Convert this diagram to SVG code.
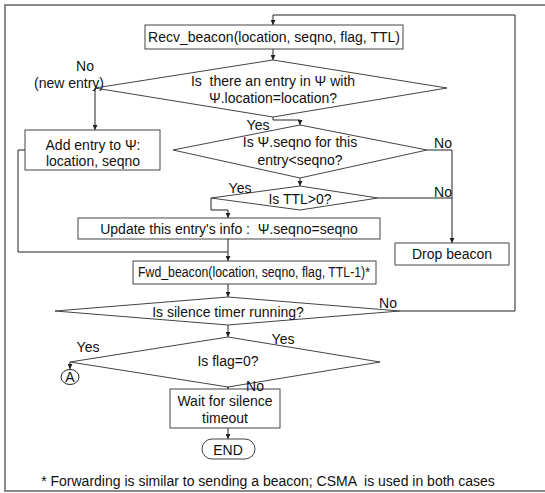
<svg xmlns="http://www.w3.org/2000/svg" width="545" height="493" viewBox="0 0 545 493">
<style>
text{font-family:"Liberation Sans",Arial,sans-serif;font-size:14px;fill:#111;text-anchor:middle;white-space:pre}
.box{fill:#fff;stroke:#444;stroke-width:1}
.ln{fill:none;stroke:#222;stroke-width:1}
</style>
<defs>
<marker id="ah" viewBox="0 0 6 6" refX="6" refY="3" markerWidth="5" markerHeight="5" orient="auto" markerUnits="userSpaceOnUse">
<path d="M0,0 L6,3 L0,6 z" fill="#222"/>
</marker>
</defs>
<rect width="545" height="493" fill="#fff"/>
<path d="M545,5 H5 V491 H545" fill="none" stroke="#888" stroke-width="2"/>

<g id="connectors">
<path class="ln" d="M400,311 H515 V15 H273 V25" marker-end="url(#ah)"/>
<path class="ln" d="M273,49 V60" marker-end="url(#ah)"/>
<path class="ln" d="M95,88 V130" marker-end="url(#ah)"/>
<path class="ln" d="M273,117 V120 H300 V125" marker-end="url(#ah)"/>
<path class="ln" d="M427,150 H452 V243" marker-end="url(#ah)"/>
<path class="ln" d="M300,178 V186" marker-end="url(#ah)"/>
<path class="ln" d="M378,198 H452"/>
<path class="ln" d="M211,198 V210 H228 V218" marker-end="url(#ah)"/>
<path class="ln" d="M228,239 V261" marker-end="url(#ah)"/>
<path class="ln" d="M25,150 H18 V252 H228"/>
<path class="ln" d="M228,284 V297" marker-end="url(#ah)"/>
<path class="ln" d="M228,325 V337" marker-end="url(#ah)"/>
<path class="ln" d="M70,362 V369" marker-end="url(#ah)"/>
<path class="ln" d="M228,387 V389" marker-end="url(#ah)"/>
<path class="ln" d="M228,428 V439" marker-end="url(#ah)"/>
</g>

<g id="recv">
<rect class="box" x="145" y="25" width="258" height="24"/>
<text x="274" y="42">Recv_beacon(location, seqno, flag, TTL)</text>
</g>
<g id="d1">
<polygon class="box" points="273,60 447,88 273,117 95,88"/>
<text x="273" y="86">Is  there an entry in Ψ with</text>
<text x="273" y="103">Ψ.location=location?</text>
</g>
<g id="add">
<rect class="box" x="25" y="130" width="135" height="40"/>
<text x="93" y="150">Add entry to Ψ:</text>
<text x="93" y="166">location, seqno</text>
</g>
<g id="d2">
<polygon class="box" points="300,125 427,150 300,178 173,150"/>
<text x="300" y="147">Is Ψ.seqno for this</text>
<text x="300" y="165">entry&lt;seqno?</text>
</g>
<g id="d3">
<polygon class="box" points="300,186 378,198 300,210 211,198"/>
<text x="300" y="204">Is TTL&gt;0?</text>
</g>
<g id="drop">
<rect class="box" x="395" y="243" width="114" height="22"/>
<text x="452" y="259">Drop beacon</text>
</g>
<g id="update">
<rect class="box" x="78" y="218" width="302" height="21"/>
<text x="229" y="234">Update this entry's info :  Ψ.seqno=seqno</text>
</g>
<g id="fwd">
<rect class="box" x="133" y="261" width="243" height="23"/>
<text x="254" y="277" textLength="232" lengthAdjust="spacingAndGlyphs">Fwd_beacon(location, seqno, flag, TTL-1)*</text>
</g>
<g id="d4">
<polygon class="box" points="228,297 400,311 228,325 55,311"/>
<text x="228" y="317">Is silence timer running?</text>
</g>
<g id="d5">
<polygon class="box" points="228,337 380,362 228,387 70,362"/>
<text x="228" y="366">Is flag=0?</text>
</g>
<g id="connA">
<ellipse cx="70" cy="377" rx="9" ry="7.5" fill="#fff" stroke="#222"/>
<text x="70" y="382">A</text>
</g>
<g id="wait">
<rect class="box" x="170" y="389" width="110" height="39"/>
<text x="225" y="406">Wait for silence</text>
<text x="225" y="423">timeout</text>
</g>
<g id="end">
<rect class="box" x="202" y="439" width="53" height="20" rx="10"/>
<text x="228" y="455">END</text>
</g>
<g id="labels">
<text x="85" y="71">No</text>
<text x="69" y="88">(new entry)</text>
<text x="258" y="130">Yes</text>
<text x="443" y="148">No</text>
<text x="240" y="193">Yes</text>
<text x="443" y="197">No</text>
<text x="388" y="308">No</text>
<text x="283" y="344">Yes</text>
<text x="88" y="352">Yes</text>
<text x="255" y="391">No</text>
<text x="268" y="486">* Forwarding is similar to sending a beacon; CSMA  is used in both cases</text>
</g>
</svg>
